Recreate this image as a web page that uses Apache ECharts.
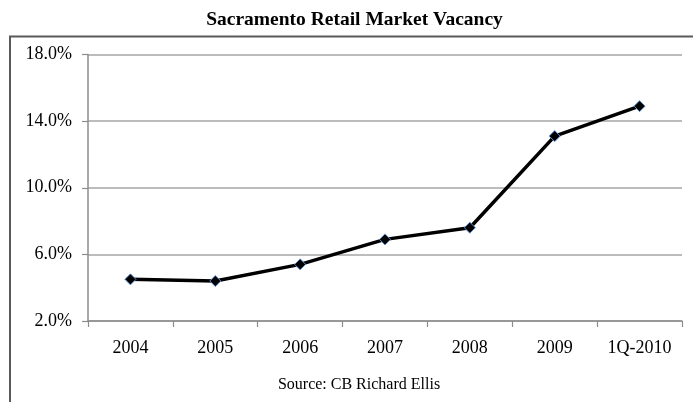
<!DOCTYPE html>
<html>
<head>
<meta charset="utf-8">
<script src="https://cdn.jsdelivr.net/npm/echarts@6/dist/echarts.min.js"></script>
<style>
  html, body { margin: 0; padding: 0; background: #fff; }
  #chart { width: 693px; height: 402px; }
</style>
</head>
<body>
<div id="chart"></div>
<script>
// Sacramento retail vacancy rate by year (percent)
const categories = ['2004', '2005', '2006', '2007', '2008', '2009', '1Q-2010'];
const vacancy = [4.5, 4.4, 5.4, 6.9, 7.6, 13.1, 14.9];
const yTicks = [2, 6, 10, 14, 18];

const serif = '"Liberation Serif", "Times New Roman", serif';
const chart = echarts.init(document.getElementById('chart'), null, { renderer: 'canvas' });

chart.setOption({
  animation: false,
  backgroundColor: '#fff',
  graphic: [
    {
      // outer chart frame (runs off the right and bottom edges)
      type: 'rect',
      shape: { x: 10, y: 36.5, width: 700, height: 400 },
      style: { fill: 'none', stroke: '#5a5a5a', lineWidth: 2 },
      silent: true
    },
    {
      type: 'text',
      x: 354.5,
      y: 20,
      style: {
        text: 'Sacramento Retail Market Vacancy',
        fontFamily: serif, fontSize: 19.5, fontWeight: 'bold', fill: '#000',
        align: 'center', verticalAlign: 'middle'
      }
    },
    {
      type: 'text',
      x: 359,
      y: 385,
      style: {
        text: 'Source: CB Richard Ellis',
        fontFamily: serif, fontSize: 16, fill: '#000',
        align: 'center', verticalAlign: 'middle'
      }
    }
  ],
  grid: { left: 88, right: 11, top: 54.5, bottom: 81 },
  xAxis: {
    type: 'category',
    data: categories,
    boundaryGap: true,
    axisLine: { lineStyle: { color: '#8c8c8c', width: 1.5 } },
    axisTick: { show: true, length: 6, alignWithLabel: false, lineStyle: { color: '#8c8c8c', width: 1.2 } },
    axisLabel: { fontFamily: serif, fontSize: 18, color: '#000', margin: 18 }
  },
  yAxis: {
    type: 'value',
    min: yTicks[0],
    max: yTicks[yTicks.length - 1],
    interval: 4,
    axisLine: { show: true, lineStyle: { color: '#8c8c8c', width: 1.5 } },
    axisTick: { show: true, length: 6, lineStyle: { color: '#8c8c8c', width: 1.2 } },
    splitLine: { show: true, lineStyle: { color: '#a6a6a6', width: 1.5 } },
    axisLabel: {
      fontFamily: serif, fontSize: 18, color: '#000', margin: 16,
      formatter: v => v.toFixed(1) + '%'
    }
  },
  series: [{
    type: 'line',
    data: vacancy,
    symbol: 'diamond',
    symbolSize: 11,
    lineStyle: { color: '#000', width: 3.5 },
    itemStyle: { color: '#000', borderColor: '#5b8fd0', borderWidth: 1 },
    z: 3
  }]
});
</script>
</body>
</html>
